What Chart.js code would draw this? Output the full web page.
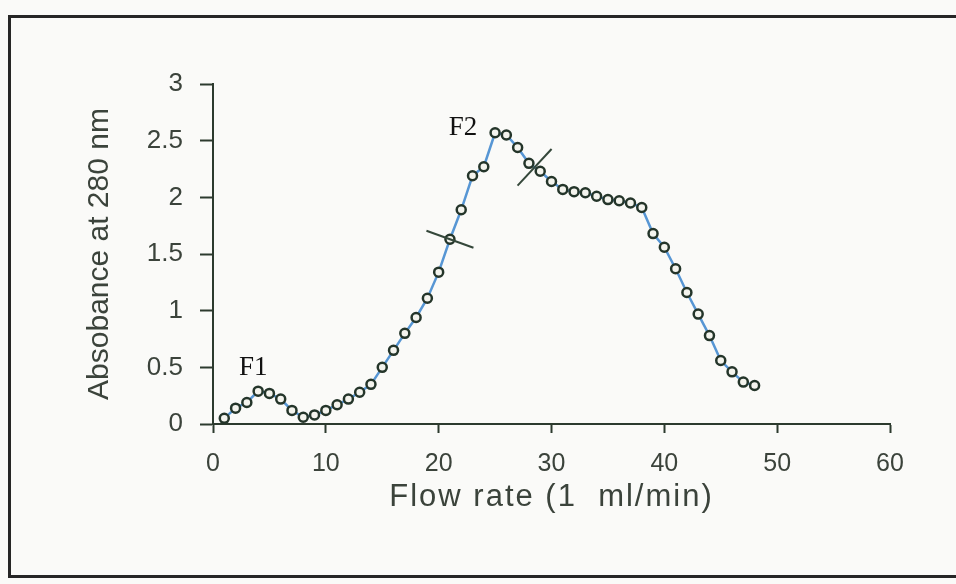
<!DOCTYPE html>
<html>
<head>
<meta charset="utf-8">
<script src="https://cdn.jsdelivr.net/npm/chart.js@4.4.1/dist/chart.umd.min.js"></script>
<style>
    html, body { margin: 0; padding: 0; background: #fafaf8; }
    #wrap { position: relative; width: 956px; height: 584px; overflow: hidden; }
    #frame { position: absolute; left: 8px; top: 15px; width: 990px; height: 563px; border: 3px solid #262626; box-sizing: border-box; }
    #chart { position: absolute; left: 0; top: 0; }
</style>
</head>
<body>
<div id="wrap">
    <div id="frame"></div>
    <canvas id="chart" width="956" height="584"></canvas>
</div>
<script>
// Elution profile: fraction number vs absorbance at 280 nm
const fractions = [1, 2, 3, 4, 5, 6, 7, 8, 9, 10, 11, 12, 13, 14, 15, 16, 17, 18, 19, 20, 21, 22, 23, 24,
    25, 26, 27, 28, 29, 30, 31, 32, 33, 34, 35, 36, 37, 38, 39, 40, 41, 42, 43, 44, 45, 46, 47, 48];
const absorbance = [0.05, 0.14, 0.19, 0.29, 0.27, 0.22, 0.12, 0.06, 0.08, 0.12, 0.17, 0.22, 0.28, 0.35,
    0.50, 0.65, 0.80, 0.94, 1.11, 1.34, 1.63, 1.89, 2.19, 2.27, 2.57, 2.55, 2.44, 2.30, 2.23, 2.14,
    2.07, 2.05, 2.04, 2.01, 1.98, 1.97, 1.95, 1.91, 1.68, 1.56, 1.37, 1.16, 0.97, 0.78, 0.56, 0.46, 0.37, 0.34];
const xTicks = [0, 10, 20, 30, 40, 50, 60];
const yTicks = [0, 0.5, 1, 1.5, 2, 2.5, 3];

// Peak names and the fractions they sit over
const peakNames = ['F1', 'F2'];
const peakAt = [4, 25];
// Fractions where the pool is cut
const cutAt = [21, 28.5];

const axisColor = '#2c3a2e';
const textColor = '#3b433b';
const sans = '"Liberation Sans", Arial, sans-serif';

const points = fractions.map((f, i) => ({ x: f, y: absorbance[i] }));

function yAt(x) {
    // y of the profile at fraction x (between two measured points)
    for (let i = 0; i < fractions.length - 1; i++) {
        if (x >= fractions[i] && x <= fractions[i + 1]) {
            const t = (x - fractions[i]) / (fractions[i + 1] - fractions[i]);
            return absorbance[i] + t * (absorbance[i + 1] - absorbance[i]);
        }
    }
    return 0;
}

const marks = {
    id: 'marks',
    afterLayout(chart) {
        // x title is a bit spread out in the original
        const sc = chart.scales.x;
        if (!sc._spaced) {
            const orig = sc.drawTitle;
            sc.drawTitle = function () {
                this.ctx.save();
                this.ctx.letterSpacing = '2px';
                orig.call(this);
                this.ctx.restore();
            };
            sc._spaced = true;
        }
    },
    afterDatasetsDraw(chart) {
        const ctx = chart.ctx;
        const xs = chart.scales.x, ys = chart.scales.y;

        // cut marks, drawn across the line
        ctx.save();
        ctx.strokeStyle = '#34473a';
        ctx.lineWidth = 2;
        cutAt.forEach(c => {
            const px = xs.getPixelForValue(c), py = ys.getPixelForValue(yAt(c));
            const ax = xs.getPixelForValue(c - 1), ay = ys.getPixelForValue(yAt(c - 1));
            const bx = xs.getPixelForValue(c + 1), by = ys.getPixelForValue(yAt(c + 1));
            const dx = bx - ax, dy = by - ay;
            const len = Math.hypot(dx, dy);
            const nx = -dy / len, ny = dx / len;
            ctx.beginPath();
            ctx.moveTo(px - nx * 25, py - ny * 25);
            ctx.lineTo(px + nx * 25, py + ny * 25);
            ctx.stroke();
        });
        ctx.restore();

        // peak names
        ctx.save();
        ctx.fillStyle = '#111';
        ctx.font = '27px "Liberation Serif", serif';
        ctx.textAlign = 'center';
        ctx.textBaseline = 'middle';
        peakNames.forEach((name, i) => {
            const f = peakAt[i];
            const px = xs.getPixelForValue(f), py = ys.getPixelForValue(yAt(f));
            if (i === 0) ctx.fillText(name, px - 5, py - 23);
            else ctx.fillText(name, px - 32, py - 5);
        });
        ctx.restore();
    }
};

new Chart(document.getElementById('chart').getContext('2d'), {
    type: 'scatter',
    data: {
        datasets: [{
            data: points,
            showLine: true,
            borderColor: '#5796d4',
            borderWidth: 2.5,
            pointRadius: 4.5,
            pointBorderWidth: 2.5,
            pointBorderColor: '#24352a',
            pointBackgroundColor: '#f4f4ee'
        }]
    },
    options: {
        responsive: false,
        animation: false,
        layout: {
            padding: { top: 84, right: 66, bottom: 0, left: 0 }
        },
        plugins: {
            legend: { display: false },
            tooltip: { enabled: false }
        },
        scales: {
            x: {
                type: 'linear',
                min: 0,
                max: 60,
                afterFit(scale) { scale.height = 160; },
                afterBuildTicks(scale) { scale.ticks = xTicks.map(v => ({ value: v })); },
                grid: {
                    drawOnChartArea: false,
                    drawTicks: true,
                    tickLength: 9,
                    tickColor: axisColor,
                    tickWidth: 2
                },
                border: { color: axisColor, width: 2 },
                ticks: {
                    color: textColor,
                    padding: 16,
                    callback: v => String(v),
                    font: { family: sans, size: 25 }
                },
                title: {
                    display: true,
                    text: 'Flow rate (1  ml/min)',
                    color: textColor,
                    padding: { bottom: 68 },
                    font: { family: sans, size: 31 }
                }
            },
            y: {
                min: 0,
                max: 3,
                afterFit(scale) { scale.width = 213; },
                afterBuildTicks(scale) { scale.ticks = yTicks.map(v => ({ value: v })); },
                grid: {
                    drawOnChartArea: false,
                    drawTicks: true,
                    tickLength: 13,
                    tickColor: axisColor,
                    tickWidth: 2
                },
                border: { color: axisColor, width: 2 },
                ticks: {
                    color: textColor,
                    padding: 17,
                    callback: v => String(v),
                    font: { family: sans, size: 26 }
                },
                title: {
                    display: true,
                    text: 'Absobance at 280 nm',
                    color: textColor,
                    padding: { top: 82 },
                    font: { family: sans, size: 30 }
                }
            }
        }
    },
    plugins: [marks]
});
</script>
</body>
</html>
